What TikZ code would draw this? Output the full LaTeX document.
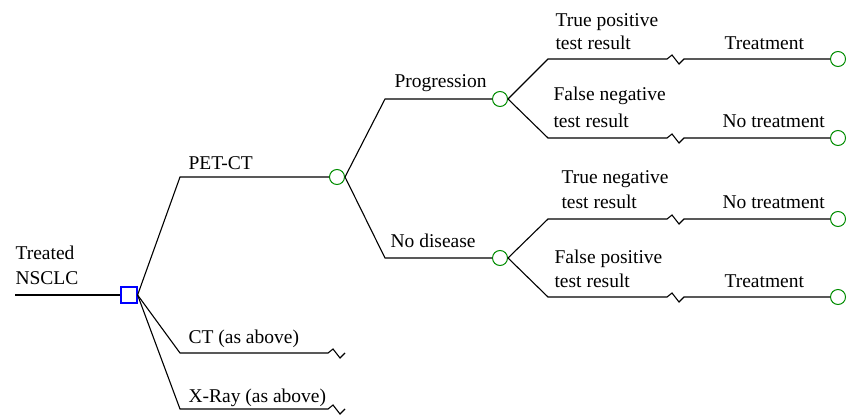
\documentclass[tikz,border=0pt]{standalone}
\usepackage{fontspec}
\setmainfont{Liberation Serif}
\newfontfamily\treefont{Liberation Serif}
\usepackage{tikz}

\begin{document}
\begin{tikzpicture}[x=1pt,y=-1pt,line width=1.1pt]
\tikzstyle{every node}+=[inner sep=0pt]
\tikzstyle{decision}=[draw=blue, line width=1.2pt, minimum size=16pt]
\tikzstyle{chance}=[draw=green!55!black, circle, line width=1pt, minimum size=15pt]
\tikzstyle{lbl}=[anchor=base west, font=\treefont\fontsize{19.5}{23}\selectfont]
\tikzstyle{brk}=[to path={-- ([xshift=119pt]\tikztostart) -- ++(5,-4) -- ++(7,9) -- ++(5,-5) -- (\tikztotarget)}]
\useasboundingbox (0,0) rectangle (850,417);
% decision
\coordinate (in) at (15,295);
\node [decision] (dec) at (129,295) {};
\node [lbl] (treated) at (15,259) {Treated};
\node [lbl] (nsclc) at (15,284) {NSCLC};
\draw (in) -- (dec.west);
% strategies
\coordinate (pet) at (180,177);
\coordinate (ct) at (180,353);
\coordinate (xray) at (180,409);
\coordinate (ctend) at (328,353);
\coordinate (xrayend) at (328,409);
\node [chance] (c1) at (337,177) {};
\draw (dec.east) -- (pet) -- (c1.west);
\draw (dec.east) -- (ct) -- (ctend) -- ++(5,-4) -- ++(7,9) -- ++(5,-5);
\draw (dec.east) -- (xray) -- (xrayend) -- ++(5,-4) -- ++(7,9) -- ++(5,-5);
\node [lbl] (petlbl) at (188,169) {PET-CT};
\node [lbl] (ctlbl) at (188,343) {CT (as above)};
\node [lbl] (xraylbl) at (188,402) {X-Ray (as above)};
% disease status
\coordinate (prog) at (385,99);
\coordinate (nodis) at (385,258);
\node [chance] (c2) at (500,99) {};
\node [chance] (c3) at (500,258) {};
\draw (c1.east) -- (prog) -- (c2.west);
\draw (c1.east) -- (nodis) -- (c3.west);
\node [lbl] (proglbl) at (394,88) {Progression};
\node [lbl] (nodislbl) at (390,247) {No disease};
% test results
\coordinate (tp) at (548,59);
\coordinate (fn) at (548,138);
\coordinate (tn) at (548,219);
\coordinate (fp) at (548,297);
\node [chance] (t1) at (838,59) {};
\node [chance] (t2) at (838,138) {};
\node [chance] (t3) at (838,219) {};
\node [chance] (t4) at (838,297) {};
\draw (c2.east) -- (tp) to [brk] (t1.west);
\draw (c2.east) -- (fn) to [brk] (t2.west);
\draw (c3.east) -- (tn) to [brk] (t3.west);
\draw (c3.east) -- (fp) to [brk] (t4.west);
\node [lbl] (tpa) at (555,27) {True positive};
\node [lbl] (tpb) at (555,50) {test result};
\node [lbl] (fna) at (553,101) {False negative};
\node [lbl] (fnb) at (553,127) {test result};
\node [lbl] (tna) at (561,183) {True negative};
\node [lbl] (tnb) at (561,208) {test result};
\node [lbl] (fpa) at (554,263) {False positive};
\node [lbl] (fpb) at (554,287) {test result};
\node [lbl] (tr1) at (724,50) {Treatment};
\node [lbl] (tr2) at (722,127) {No treatment};
\node [lbl] (tr3) at (722,208) {No treatment};
\node [lbl] (tr4) at (724,287) {Treatment};
\end{tikzpicture}
\end{document}
